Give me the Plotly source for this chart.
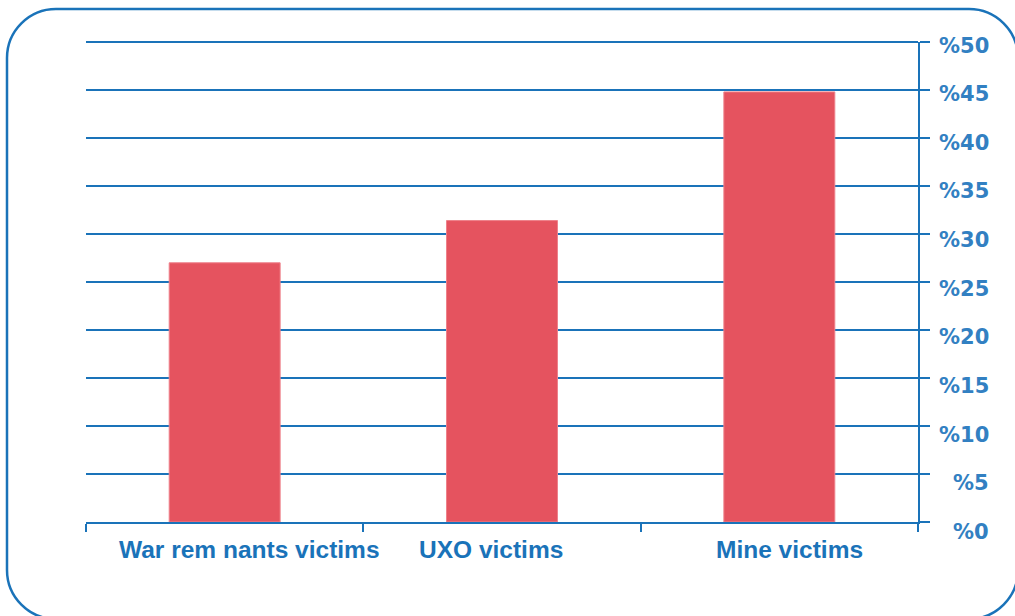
import plotly.graph_objects as go

# Share of victims by cause (percent)
categories = ["War rem nants victims", "UXO victims", "Mine victims"]
values = [27.0, 31.4, 44.8]
tick_values = [0, 5, 10, 15, 20, 25, 30, 35, 40, 45, 50]
tick_labels = ["%" + str(v) for v in tick_values]
label_shift = [25, -11, 10]  # horizontal nudges for category captions (px)

BLUE = "#1a73b9"
BAR = "#e5535f"
Y_MAX = 50

W, H = 1015, 616
L, R, T, B = 86, 97, 42, 94
PW, PH = W - L - R, H - T - B


def px_to_paper(px, py):
    return (px - L) / PW, (H - B - py) / PH


def rounded_frame(x0, y0, x1, y1, r):
    k = 0.5523 * r

    def p(x, y):
        a, b = px_to_paper(x, y)
        return f"{a:.5f},{b:.5f}"

    path = f"M {p(x0 + r, y0)} L {p(x1 - r, y0)} "
    path += f"C {p(x1 - r + k, y0)} {p(x1, y0 + r - k)} {p(x1, y0 + r)} "
    path += f"L {p(x1, y1 - r)} "
    path += f"C {p(x1, y1 - r + k)} {p(x1 - r + k, y1)} {p(x1 - r, y1)} "
    path += f"L {p(x0 + r, y1)} "
    path += f"C {p(x0 + r - k, y1)} {p(x0, y1 - r + k)} {p(x0, y1 - r)} "
    path += f"L {p(x0, y0 + r)} "
    path += f"C {p(x0, y0 + r - k)} {p(x0 + r - k, y0)} {p(x0 + r, y0)} Z"
    return path


fig = go.Figure()
fig.add_trace(go.Bar(
    x=categories,
    y=values,
    width=0.4,
    marker=dict(color=BAR, line=dict(color="#ee808a", width=1)),
    hoverinfo="x+y",
))

annotations = []
for v, t in zip(tick_values, tick_labels):
    # value labels sit a little below their gridlines, more so toward the base
    annotations.append(dict(
        x=(991 - L) / PW, xref="paper", y=v, yref="y",
        yshift=-(3.5 + 0.13 * (Y_MAX - v)),
        text=t, showarrow=False, xanchor="right", yanchor="middle",
        font=dict(family="DejaVu Sans", size=21, color="#3280c2", weight="bold"),
    ))
for c, s in zip(categories, label_shift):
    annotations.append(dict(
        x=c, xref="x", y=0, yref="paper", yshift=-27, xshift=s,
        text=c, showarrow=False, xanchor="center", yanchor="middle",
        font=dict(family="Liberation Sans", size=24.5, color=BLUE, weight="bold"),
    ))

top = tick_values[-1] / Y_MAX
shapes = [
    dict(
        type="path", xref="paper", yref="paper", layer="below",
        path=rounded_frame(7, 9, 1018, 619, 49),
        line=dict(color=BLUE, width=2.5),
    ),
    # top gridline at the upper end of the value axis
    dict(
        type="line", xref="paper", yref="paper", layer="below",
        x0=0, x1=1, y0=top, y1=top,
        line=dict(color=BLUE, width=2),
    ),
]

fig.update_layout(
    width=W, height=H,
    margin=dict(l=L, r=R, t=T, b=B),
    paper_bgcolor="white",
    plot_bgcolor="white",
    showlegend=False,
    annotations=annotations,
    shapes=shapes,
    xaxis=dict(
        range=[-0.5, 2.5],
        showline=True, linecolor=BLUE, linewidth=2,
        ticks="outside", ticklen=8, tickwidth=2, tickcolor=BLUE,
        tickson="boundaries",
        showticklabels=False, showgrid=False, zeroline=False,
        fixedrange=True,
    ),
    yaxis=dict(
        side="right", range=[0, Y_MAX], tickvals=tick_values,
        showgrid=True, gridcolor=BLUE, gridwidth=2,
        showline=True, linecolor=BLUE, linewidth=2,
        ticks="outside", ticklen=10, tickwidth=2, tickcolor=BLUE,
        showticklabels=False, zeroline=False,
        fixedrange=True,
    ),
)

fig.write_html("out.html")
